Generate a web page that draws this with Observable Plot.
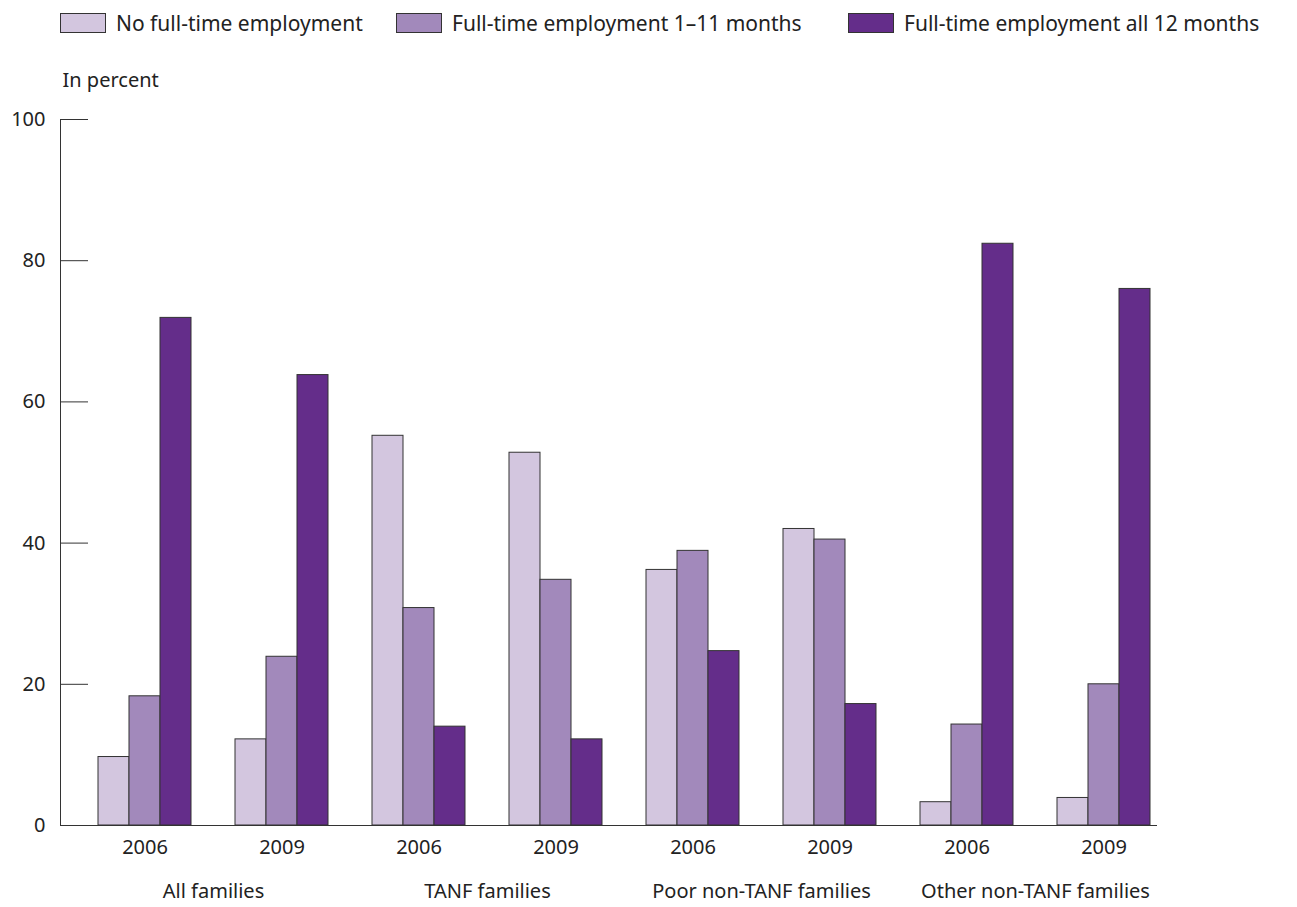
<!DOCTYPE html>
<html>
<head>
<meta charset="utf-8">
<script src="https://cdn.jsdelivr.net/npm/d3@7"></script>
<script src="https://cdn.jsdelivr.net/npm/@observablehq/plot@0.6"></script>
<style>
  body { margin: 0; background: #fff; font-family: "Noto Sans", sans-serif; color: #222; }
  #legend { position: relative; height: 44px; font-size: 21px; }
  .item { position: absolute; top: 9px; display: flex; align-items: center; white-space: nowrap; }
  .sw { width: 46px; height: 20px; border: 1px solid #333; box-sizing: border-box; margin-right: 10px; }
</style>
</head>
<body>
<div id="legend"></div>
<div id="chart"></div>
<script>
const groups = ["All families", "TANF families", "Poor non-TANF families", "Other non-TANF families"];
const years = ["2006", "2009"];
const series = ["No full-time employment", "Full-time employment 1\u201311 months", "Full-time employment all 12 months"];
const colors = ["#d3c6df", "#a289bb", "#642d8a"];
// values in order: group x year
const noFullTime  = [9.7, 12.2, 55.2, 52.8, 36.2, 42.0, 3.3, 3.9];
const partFullTime = [18.3, 23.9, 30.8, 34.8, 38.9, 40.5, 14.3, 20.0];
const allFullTime  = [71.9, 63.8, 14.0, 12.2, 24.7, 17.2, 82.4, 76.0];
const yTicks = [0, 20, 40, 60, 80, 100];

const seriesValues = [noFullTime, partFullTime, allFullTime];
const keys = groups.flatMap(g => years.map(y => g + "|" + y));
const data = [];
seriesValues.forEach((vals, si) => {
  keys.forEach((k, i) => data.push({key: k, group: k.split("|")[0], year: k.split("|")[1], series: series[si], si, value: vals[i]}));
});

// legend
const legendLeft = [60, 396, 848];
const leg = document.getElementById("legend");
series.forEach((s, i) => {
  const it = document.createElement("div");
  it.className = "item";
  it.style.left = legendLeft[i] + "px";
  const sw = document.createElement("div");
  sw.className = "sw";
  sw.style.background = colors[i];
  it.appendChild(sw);
  const t = document.createElement("span");
  t.textContent = s;
  it.appendChild(t);
  leg.appendChild(it);
});

const width = 1297, height = 863;
const marginLeft = 60, marginRight = 140, marginTop = 75, marginBottom = 82;
const bw = 31; // sub-bar width in px (band width 93 / 3)

const barMarks = [0, 1, 2].map(si => Plot.barY(data.filter(d => d.si === si), {
  x: "key", y: "value", fill: colors[si], stroke: "#333", strokeWidth: 1,
  insetLeft: si * bw, insetRight: (2 - si) * bw
}));

const chart = Plot.plot({
  width, height, marginLeft, marginRight, marginTop, marginBottom,
  style: {fontFamily: "Noto Sans, sans-serif", fontSize: "20px", color: "#222", background: "#fff"},
  x: {type: "band", domain: keys, paddingInner: 0.321, paddingOuter: 0.164, align: 0.844, label: null},
  y: {domain: [0, 100], label: null},
  marks: [
    ...barMarks,
    Plot.frame({anchor: "left", stroke: "#333"}),
    Plot.ruleY([0], {stroke: "#333", strokeWidth: 1.2}),
    Plot.axisY({ticks: yTicks, tickSize: -28, tickPadding: 43, stroke: "#333", fontSize: 20, label: null}),
    Plot.axisX({tickSize: 0, tickPadding: 14, tickFormat: d => d.split("|")[1], fontSize: 20, label: null}),
    Plot.axisX(keys.filter(k => k.endsWith("|2006")), {tickSize: 0, tickPadding: 58, dx: 68.5, tickFormat: d => d.split("|")[0], fontSize: 20, label: null}),
    Plot.text(["In percent"], {frameAnchor: "top-left", dy: -47, dx: 2, textAnchor: "start", fontSize: 20, fill: "#222"})
  ]
});
document.getElementById("chart").appendChild(chart);
</script>
</body>
</html>
